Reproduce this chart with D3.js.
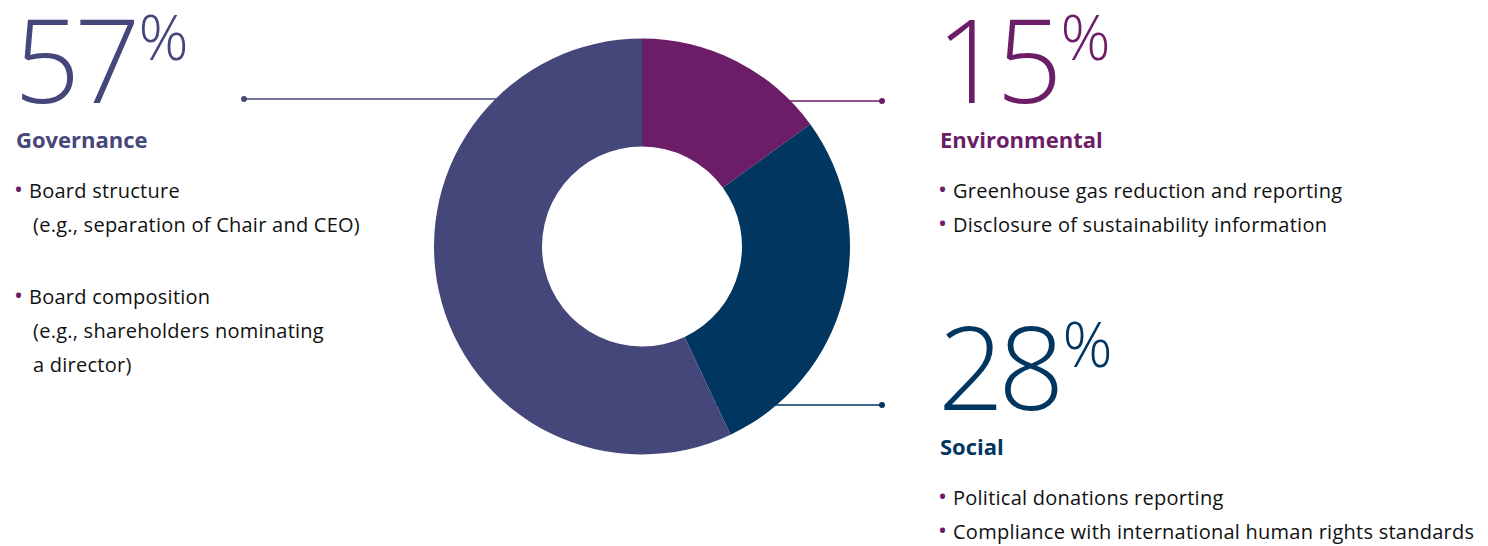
<!DOCTYPE html>
<html><head><meta charset="utf-8">
<script src="https://cdn.jsdelivr.net/npm/d3@7"></script>
<style>body{margin:0;background:#fff}svg{display:block}</style>
</head><body>
<script>
const categories = ["Environmental", "Social", "Governance"];
const values = [15, 28, 57];
const colors = ["#6B1D67", "#003660", "#45477A"];
const bullets = [
  ["Greenhouse gas reduction and reporting", "Disclosure of sustainability information"],
  ["Political donations reporting", "Compliance with international human rights standards"],
  ["Board structure\n(e.g., separation of Chair and CEO)", "Board composition\n(e.g., shareholders nominating\na director)"]
];

const W = 1488, H = 546;
const svg = d3.select("body").append("svg").attr("width", W).attr("height", H);
const cx = 642, cy = 246.5, R = 208, r = 100;
const font = "'Open Sans', sans-serif";

const layout = [
  {x: 936, y: 103, ly: 101, lx: 882},
  {x: 938, y: 410, ly: 405, lx: 882},
  {x: 14, y: 103, ly: 99, lx: 244}
];

const conn = svg.append("g");
categories.forEach((c, i) => {
  const L = layout[i];
  conn.append("line").attr("x1", cx).attr("x2", L.lx).attr("y1", L.ly).attr("y2", L.ly)
    .attr("stroke", colors[i]).attr("stroke-width", 1.5);
  conn.append("circle").attr("cx", L.lx).attr("cy", L.ly).attr("r", 3).attr("fill", colors[i]);
});

const pie = d3.pie().sort(null).value(d => d)(values);
const arc = d3.arc().innerRadius(r).outerRadius(R);
svg.append("g").attr("transform", `translate(${cx},${cy})`)
  .selectAll("path").data(pie).join("path")
  .attr("d", arc).attr("fill", (d, i) => colors[i]);

categories.forEach((c, i) => {
  const L = layout[i];
  const g = svg.append("g").attr("font-family", font);
  const t = g.append("text").attr("x", L.x).attr("y", L.y).attr("fill", colors[i])
    .attr("font-size", 116).attr("font-weight", 300).attr("letter-spacing", -6).text(values[i]);
  const w = t.node().getComputedTextLength();
  g.append("text").attr("x", L.x + w + 4).attr("y", L.y - 43).attr("fill", colors[i])
    .attr("font-size", 62).attr("font-weight", 300).text("%");
  const lx = i === 0 ? L.x + 4 : L.x + 2;
  g.append("text").attr("x", lx).attr("y", L.y + 45).attr("fill", colors[i])
    .attr("font-size", 22).attr("font-weight", 700).text(c);
  let y = L.y + 95;
  const bx = i === 0 ? L.x + 2 : L.x;
  const gap = i === 2 ? 38 : 0;
  bullets[i].forEach(b => {
    const lines = b.split("\n");
    g.append("text").attr("x", bx).attr("y", y).attr("fill", "#6B1D67").attr("font-size", 24).text("•");
    lines.forEach((ln, k) => {
      g.append("text").attr("x", bx + (k === 0 ? 15 : 19)).attr("y", y).attr("fill", "#111")
        .attr("font-size", 20).attr("letter-spacing", 0.25).text(ln);
      y += 34;
    });
    y += gap;
  });
});
</script>
</body></html>
